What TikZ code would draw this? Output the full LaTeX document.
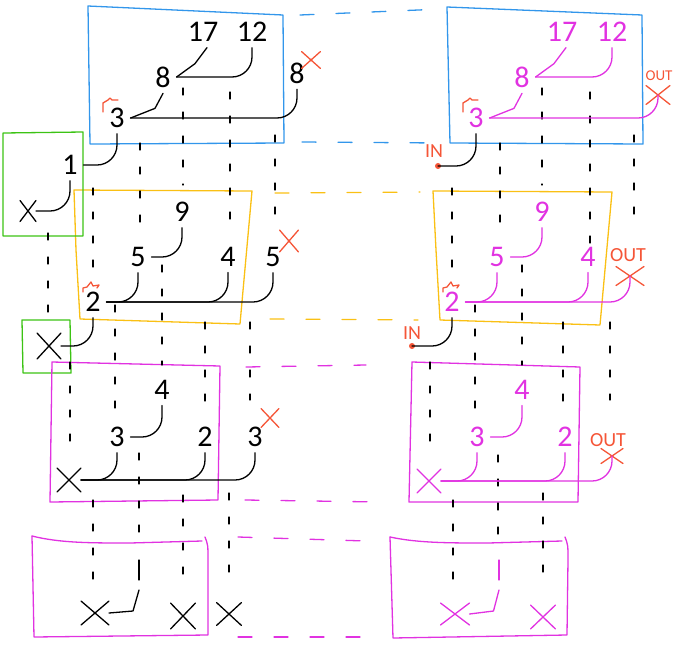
\documentclass[tikz,border=0pt]{standalone}
\usepackage{fontspec}
\setmainfont{Carlito}
\usepackage{tikz}
\usetikzlibrary{shapes.misc}
\definecolor{boxblue}{RGB}{50,150,235}
\definecolor{boxyellow}{RGB}{250,192,20}
\definecolor{boxgreen}{RGB}{60,195,20}
\definecolor{pathmag}{RGB}{225,50,225}
\definecolor{markred}{RGB}{245,85,55}

\begin{document}
\begin{tikzpicture}[x=1pt, y=-1pt, line width=1.3pt, line cap=round, line join=round,
  digit/.style={inner sep=1pt, outer sep=5pt, font=\fontsize{30}{32}\selectfont},
  rdigit/.style={digit, text=pathmag},
  xmark/.style 2 args={draw, cross out, minimum width=#1, minimum height=#2, inner sep=0pt, outer sep=2pt},
  link/.style={rounded corners=20pt},
  vdash/.style={dash pattern=on 7pt off 17pt},
  hdash/.style={dash pattern=on 14pt off 22pt},
  tag/.style={text=markred, inner sep=1pt, font=\fontsize{20}{21}\selectfont}]

  \useasboundingbox (0,0) rectangle (681,654);

  % ---------- boxes ----------
  \draw[boxblue]   (88,6) -- (283,15) -- (284,143) -- (90,144) -- cycle;
  \draw[boxblue]   (447,7) -- (642,15) -- (643,144) -- (450,143) -- cycle;
  \draw[boxyellow] (74,190) -- (252,191) -- (240,324) -- (80,319) -- (76,250) -- cycle;
  \draw[boxyellow] (433,191) -- (612,192) -- (600,325) -- (440,320) -- (436,250) -- cycle;
  \draw[boxgreen]  (3,133) -- (83,132) -- (83,236) -- (3,236) -- cycle;
  \draw[boxgreen]  (22,320) -- (70,320) -- (71,373) -- (23,373) -- cycle;
  \draw[pathmag]   (52,362) -- (220,366) -- (218,500) -- (50,502) -- cycle;
  \draw[pathmag]   (412,362) -- (580,367) -- (578,502) -- (409,502) -- cycle;
  \draw[pathmag]   (32,536) .. controls (60,543) and (90,543) .. (130,543) -- (202,541);
  \draw[pathmag]   (205,537) .. controls (208,545) .. (208,560) -- (208,635) -- (34,637) -- (32,536);
  \draw[pathmag]   (390,537) .. controls (418,543) and (448,543) .. (488,543) -- (562,541);
  \draw[pathmag]   (565,537) .. controls (568,545) .. (568,560) -- (567,635) -- (393,638) -- (390,537);

  % ---------- links between left and right boxes ----------
  \draw[boxblue, hdash]   (300,15) -- (442,9);
  \draw[boxblue, hdash]   (302,142) -- (440,143);
  \draw[boxyellow, hdash] (275,193) -- (420,192);
  \draw[boxyellow, hdash] (270,319) -- (418,320);
  \draw[pathmag, hdash]   (246,367) -- (366,365);
  \draw[pathmag, hdash]   (245,500) -- (380,502);
  \draw[pathmag, hdash]   (238,537) -- (366,541);
  \draw[pathmag, hdash]   (238,637) -- (370,637);

  % ---------- dashed columns ----------
  \foreach \x/\ya/\yb in {183/88/185, 230/92/232, 275/135/218, 140/143/222, 93/188/277,
      162/265/365, 48/233/328, 115/305/410, 205/322/410, 250/322/400, 70/362/455,
      139/453/545, 93/500/590, 183/495/585, 229/493/580,
      542/88/185, 590/92/245, 634/135/218, 500/143/222, 452/188/277, 522/265/365,
      475/305/410, 563/322/410, 610/322/400, 430/362/455, 498/455/545, 453/500/590,
      543/493/585}{
    \draw[vdash] (\x,\ya) -- (\x,\yb);}

  % ===== left: blue row =====
  \node[digit] (l17) at (203,32) {17};
  \node[digit] (l12) at (252,32) {12};
  \node[digit] (l8a) at (163,77) {8};
  \node[digit] (l3)  at (117,118) {3};
  \node[digit] (l8b) at (297,73) {8};
  \node[xmark={15}{13}, markred] (rx1) at (311,60) {};
  \draw ([xshift=4pt]l17.south) -- ++(-12,16) -- (l8a.east);
  \draw[link] (l12.south) |- (l8a.east);
  \draw (l8a.south) -- ++(-8,15) -- (l3.east);
  \draw[link] (l3.east) -| (l8b.south);
  \draw[markred] (103,112) -- (103,103) -- (108,100) -- (110,98) -- (112,100) -- (118,100);

  % ===== left: green boxes =====
  \node[digit] (l1) at (70,165) {1};
  \node[xmark={12}{17}] (gx1) at (28,211) {};
  \node[xmark={20}{22}] (gx2) at (49,346) {};
  \draw[link] (l1.east) -| (l3.south);
  \draw[link] (gx1.east) -| (l1.south);

  % ===== left: yellow row =====
  \node[digit] (l9)  at (182,212) {9};
  \node[digit] (l5a) at (138,257) {5};
  \node[digit] (l4)  at (228,257) {4};
  \node[digit] (l5b) at (273,257) {5};
  \node[digit] (l2)  at (93,302) {2};
  \node[xmark={15}{18}, markred] (rx2) at (289,241) {};
  \draw[link] (l9.south) |- (l5a.east);
  \draw[link] (l5a.south) |- (l2.east);
  \draw[link] (l4.south) |- (l2.east);
  \draw[link] (l5b.south) |- (l2.east);
  \draw[link] (l2.south) |- (gx2.east);
  \draw[markred] (83,292) -- (83,288) -- (87,287) -- (91,282) -- (93,286) -- (99,285) -- (97,288);

  % ===== left: magenta row =====
  \node[digit] (l4c) at (162,390) {4};
  \node[digit] (l3c) at (117,437) {3};
  \node[digit] (l2c) at (205,437) {2};
  \node[digit] (l3d) at (255,437) {3};
  \node[xmark={14}{15}, markred] (rx3) at (270,418) {};
  \node[xmark={20}{20}] (bx3) at (69,480) {};
  \draw[link] (l4c.south) |- (l3c.east);
  \draw[link] (l3c.south) |- (bx3.east);
  \draw[link] (l2c.south) |- (bx3.east);
  \draw[link] (bx3.east) -| (l3d.south);

  % ===== left: bottom row =====
  \node[xmark={24}{20}] (bxa) at (95,613) {};
  \node[xmark={21}{22}] (bxb) at (183,616) {};
  \node[xmark={21}{19}] (bxc) at (229,614) {};
  \coordinate (ka) at (139,590);
  \coordinate (kb) at (139,580);
  \coordinate (kc) at (139,560);
  \draw (bxa.east) -- ++(24,-2) -- (ka);
  \draw (kb) -- (kc);

  % ===== right: blue row =====
  \node[rdigit] (r17) at (562,32) {17};
  \node[rdigit] (r12) at (612,32) {12};
  \node[rdigit] (r8)  at (522,77) {8};
  \node[rdigit] (r3)  at (476,118) {3};
  \node[tag, font=\fontsize{15}{16}\selectfont] (out1) at (659,76) {OUT};
  \node[xmark={20}{15}, markred] (rox1) at (658,95) {};
  \node[tag] (in1) at (434,151) {IN};
  \fill[markred] (438,166) circle (3pt) coordinate (dot1);
  \draw[pathmag] ([xshift=4pt]r17.south) -- ++(-12,16) -- (r8.east);
  \draw[pathmag, link] (r12.south) |- (r8.east);
  \draw[pathmag] (r8.south) -- ++(-8,15) -- (r3.east);
  \draw[pathmag, link] (r3.east) -| (rox1.center);
  \draw[link] (dot1) -| (r3.south);
  \draw[markred] (463,112) -- (463,103) -- (468,100) -- (470,98) -- (472,100) -- (478,100);

  % ===== right: yellow row =====
  \node[rdigit] (r9)  at (542,212) {9};
  \node[rdigit] (r5)  at (497,257) {5};
  \node[rdigit] (r4)  at (588,257) {4};
  \node[rdigit] (r2)  at (452,302) {2};
  \node[tag] (out2) at (628,255) {OUT};
  \node[xmark={24}{15}, markred] (rox2) at (630,276) {};
  \node[tag] (in2) at (412,333) {IN};
  \fill[markred] (412,346) circle (3pt) coordinate (dot2);
  \draw[pathmag, link] (r9.south) |- (r5.east);
  \draw[pathmag, link] (r5.south) |- (r2.east);
  \draw[pathmag, link] (r4.south) |- (r2.east);
  \draw[pathmag, link] (r2.east) -| (rox2.center);
  \draw[link] (dot2) -| (r2.south);
  \draw[markred] (443,292) -- (443,288) -- (447,287) -- (451,282) -- (453,286) -- (459,285) -- (457,288);

  % ===== right: magenta row =====
  \node[rdigit] (r4c) at (522,390) {4};
  \node[rdigit] (r3c) at (477,437) {3};
  \node[rdigit] (r2c) at (565,437) {2};
  \node[tag] (out3) at (608,440) {OUT};
  \node[xmark={18}{11}, markred] (rox3) at (612,456) {};
  \node[xmark={20}{20}, pathmag] (mx3) at (429,481) {};
  \draw[pathmag, link] (r4c.south) |- (r3c.east);
  \draw[pathmag, link] (r3c.south) |- (mx3.east);
  \draw[pathmag, link] (r2c.south) |- (mx3.east);
  \draw[pathmag, link] (mx3.east) -| (rox3.center);

  % ===== right: bottom row =====
  \node[xmark={25}{18}, pathmag] (mxa) at (455,614) {};
  \node[xmark={21}{20}, pathmag] (mxb) at (543,617) {};
  \coordinate (ma) at (499,590);
  \coordinate (mb) at (499,580);
  \coordinate (mc) at (499,560);
  \draw[pathmag] (mxa.east) -- ++(24,-3) -- (ma);
  \draw[pathmag] (mb) -- (mc);

\end{tikzpicture}
\end{document}
